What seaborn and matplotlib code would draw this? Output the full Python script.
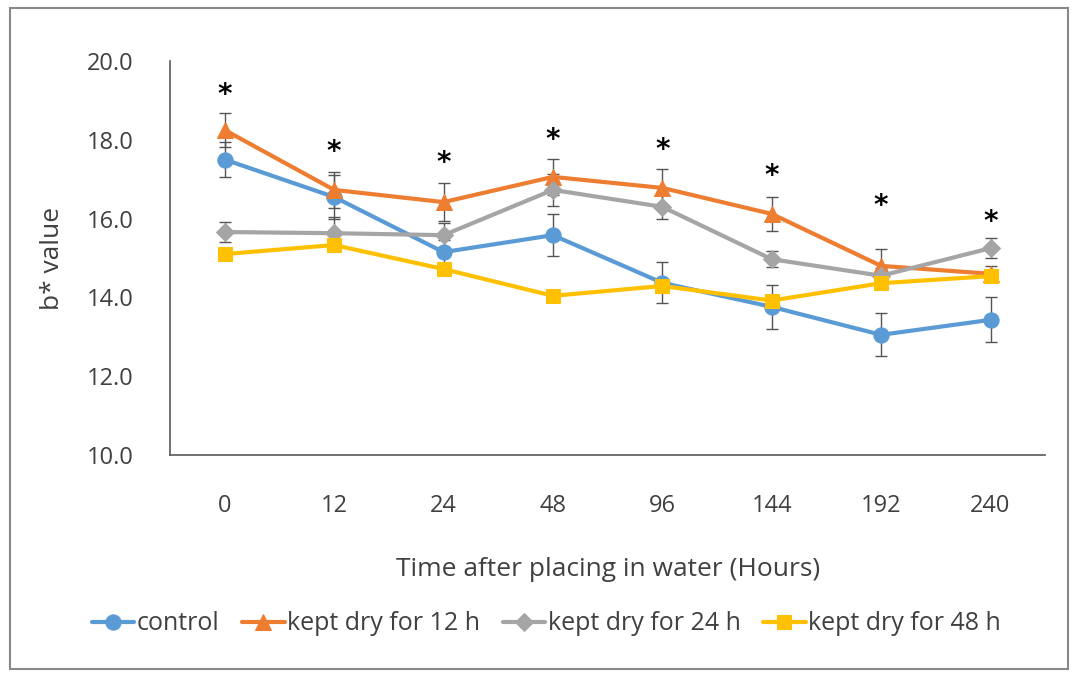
import numpy as np
import pandas as pd
import matplotlib
matplotlib.use("Agg")
import matplotlib.pyplot as plt
import matplotlib.patches as mpatches
import seaborn as sns

hours = ["0", "12", "24", "48", "96", "144", "192", "240"]
series_names = ["control", "kept dry for 12 h", "kept dry for 24 h", "kept dry for 48 h"]

control = [17.50, 16.55, 15.15, 15.58, 14.37, 13.76, 13.05, 13.43]
dry12 = [18.25, 16.73, 16.42, 17.06, 16.78, 16.12, 14.80, 14.60]
dry24 = [15.66, 15.63, 15.58, 16.73, 16.30, 14.97, 14.55, 15.25]
dry48 = [15.10, 15.33, 14.72, 14.04, 14.29, 13.92, 14.36, 14.54]

control_err = [0.45, 0.55, 0.30, 0.53, 0.52, 0.56, 0.55, 0.57]
dry12_err = [0.43, 0.45, 0.48, 0.46, 0.48, 0.43, 0.43, 0.20]
dry24_err = [0.25, 0.40, 0.30, 0.40, 0.30, 0.20, 0.20, 0.25]
dry48_err = [0.12, 0.12, 0.12, 0.10, 0.12, 0.12, 0.12, 0.12]

star_y = [19.14, 17.69, 17.41, 18.00, 17.74, 17.08, 16.32, 15.91]

colors = ["#5B9BD5", "#ED7D31", "#A5A5A5", "#FFC000"]
markers = ["o", "^", "D", "s"]
sizes = [11, 11, 9, 10]

df = pd.DataFrame({
    "pos": list(range(len(hours))) * 4,
    "value": control + dry12 + dry24 + dry48,
    "err": control_err + dry12_err + dry24_err + dry48_err,
    "series": np.repeat(series_names, len(hours)),
})

sns.set_style("white")
plt.rcParams["font.family"] = ["Open Sans", "DejaVu Sans"]
text_col = "#404040"

fig = plt.figure(figsize=(10.72, 6.79), dpi=100)
ax = fig.add_axes([0.1586, 0.330, 0.8164, 0.580])

for name, col, mk, ms in zip(series_names, colors, markers, sizes):
    d = df[df["series"] == name]
    ax.errorbar(d["pos"], d["value"], yerr=d["err"], fmt="none",
                ecolor="#555555", elinewidth=1, capsize=4, capthick=1, zorder=2)
    sns.lineplot(data=d, x="pos", y="value", ax=ax, color=col, marker=mk,
                 markersize=ms, markeredgecolor=col, linewidth=3,
                 label=name, zorder=3)

for i, y in enumerate(star_y):
    ax.text(i, y, "*", ha="center", va="center", fontsize=20,
            color="black", family="DejaVu Sans", fontweight="bold")

ax.set_xlim(-0.5, len(hours) - 0.5)
ax.set_ylim(10, 20)
ax.set_xticks(range(len(hours)))
ax.set_xticklabels(hours)
ax.set_yticks(np.arange(10, 20.1, 2))
ax.set_yticklabels([f"{v:.1f}" for v in np.arange(10, 20.1, 2)])
ax.set_xticks([len(hours) - 0.5], minor=True)
ax.tick_params(axis="both", which="both", labelsize=17, colors="#595959",
               labelcolor=text_col, direction="out", length=6, width=1)
ax.tick_params(axis="x", pad=22)
ax.tick_params(axis="y", pad=20)

for s in ["top", "right"]:
    ax.spines[s].set_visible(False)
for s in ["left", "bottom"]:
    ax.spines[s].set_color("#595959")
    ax.spines[s].set_linewidth(1.2)

ax.set_xlabel("Time after placing in water (Hours)", fontsize=19,
              color=text_col, labelpad=28)
ax.set_ylabel("b* value", fontsize=19, color=text_col, labelpad=16)

ax.legend(loc="upper center", bbox_to_anchor=(0.43, -0.34), ncol=4,
          frameon=False, fontsize=18, handlelength=1.7, handletextpad=0.1,
          columnspacing=0.9, labelcolor=text_col)

fig.patches.append(mpatches.Rectangle((0.009, 0.014), 0.987, 0.974,
                                      transform=fig.transFigure, fill=False,
                                      edgecolor="#888888", linewidth=1.5))

fig.savefig("out.png", dpi=100)
